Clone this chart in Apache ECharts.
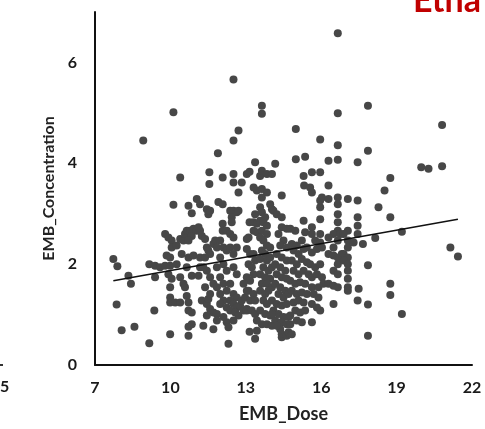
<!DOCTYPE html>
<html>
<head>
<meta charset="utf-8">
<script src="https://cdn.jsdelivr.net/npm/echarts@6/dist/echarts.min.js"></script>
<style>
html,body{margin:0;padding:0;background:#fff;}
#chart{width:485px;height:429px;}
</style>
</head>
<body>
<div id="chart"></div>
<script>
// X axis tick labels (EMB_Dose) and Y axis tick labels (EMB_Concentration)
var xTicks = [7, 10, 13, 16, 19, 22];
var yTicks = [0, 2, 4, 6];

// Points as [EMB_Dose, EMB_Concentration], grouped by dose band
var outer = [[16.66,6.58],[12.51,5.66],[13.64,5.14],[13.64,4.98],[10.12,5.01],[16.66,4.99],[17.86,5.14],[20.81,4.76],[14.99,4.68],[12.71,4.65],[8.92,4.45],[12.51,4.45],[15.96,4.47],[16.66,4.36],[17.86,4.25],[11.89,4.20],[14.99,4.08],[15.36,4.13],[16.29,4.05],[16.66,4.07],[17.45,4.02],[13.37,4.02],[14.17,3.99],[19.98,3.92],[20.27,3.89],[20.81,3.94],[18.75,3.71],[18.52,3.46],[18.28,3.13],[18.75,2.93],[19.21,2.64],[21.14,2.33],[21.44,2.15],[18.75,1.61],[18.75,1.39],[19.21,1.01],[17.86,0.58],[17.86,1.98],[17.86,1.20],[17.66,2.40],[18.15,2.52],[17.49,1.51],[17.45,1.28]];
var bandLeft = [[7.73,2.10],[7.89,1.96],[8.33,1.77],[8.43,1.61],[7.86,1.20],[8.06,0.69],[8.57,0.76],[9.16,0.43],[9.36,1.08],[9.16,2.00],[9.39,1.97],[9.59,1.94],[9.79,1.97],[9.39,1.74],[9.99,0.61],[9.79,2.60],[9.92,2.53],[9.85,2.17]];
var band10 = [[10.05,2.47],[10.05,2.33],[9.99,2.13],[9.99,1.97],[9.92,1.80],[10.05,1.71],[9.99,1.54],[9.99,1.34],[9.99,1.24],[10.19,1.24],[10.39,1.24],[10.12,3.18],[10.39,3.72],[10.25,2.00],[10.25,2.37],[10.39,2.50],[10.52,2.47],[10.58,2.60],[10.65,2.66],[10.78,2.66],[10.92,2.70],[11.05,2.66],[11.18,2.66],[11.12,2.73],[10.85,2.56],[10.72,2.47],[10.45,2.20],[10.39,1.74],[10.52,1.61],[10.58,1.54],[10.65,1.37],[10.72,1.08],[10.85,1.04],[10.72,1.24],[10.72,2.13],[10.92,2.17],[10.65,1.94],[10.85,1.77],[11.12,1.77],[11.18,1.94],[11.18,2.13],[10.72,0.58],[10.72,0.76],[10.85,0.81]];
var band11 = [[10.72,3.16],[10.85,3.01],[11.05,3.29],[11.18,3.19],[11.45,3.09],[11.51,2.99],[11.58,3.06],[11.55,3.82],[11.55,3.59],[11.25,2.56],[11.38,2.50],[11.45,2.33],[11.51,2.27],[11.58,2.20],[11.71,2.40],[11.78,2.47],[11.38,2.13],[11.31,1.94],[11.45,1.87],[11.58,1.74],[11.71,1.61],[11.38,1.54],[11.25,1.28],[11.45,1.21],[11.58,1.11],[11.71,1.04],[11.51,1.31],[11.58,1.41],[11.45,0.98],[11.31,0.78],[11.71,0.71]];
var band12 = [[11.91,3.23],[12.08,3.72],[12.08,3.19],[12.51,3.79],[12.51,3.62],[12.71,3.42],[12.38,3.06],[12.51,3.06],[12.64,3.03],[12.71,3.06],[12.44,2.93],[12.44,2.83],[12.08,2.80],[12.08,2.66],[12.24,2.66],[12.38,2.60],[12.51,2.53],[11.98,2.47],[11.85,2.33],[12.11,2.33],[12.24,2.27],[12.38,2.33],[12.64,2.33],[12.51,2.20],[11.98,2.13],[12.11,2.00],[11.85,1.94],[12.24,1.87],[12.51,1.94],[12.64,1.80],[11.98,1.74],[12.11,1.61],[12.38,1.61],[11.85,1.54],[11.98,1.41],[12.24,1.47],[12.51,1.41],[12.64,1.34],[12.11,1.28],[12.38,1.28],[12.51,1.21],[12.64,1.14],[11.98,1.21],[12.24,1.14],[12.38,1.08],[12.58,1.04],[11.85,1.01],[12.11,0.95],[12.24,0.85],[12.51,0.88],[12.71,0.98],[12.77,1.18],[12.84,1.28],[12.91,1.08],[13.04,1.11],[11.85,0.88],[12.31,0.42],[12.31,0.75]];
var band13 = [[12.84,3.62],[13.04,3.79],[13.15,3.83],[13.31,3.52],[13.15,2.83],[13.31,2.83],[13.37,2.99],[13.04,2.50],[13.11,2.53],[13.31,2.66],[13.44,2.80],[13.44,2.63],[13.04,2.30],[13.17,2.20],[13.31,2.20],[13.37,2.07],[13.11,2.00],[13.24,1.94],[13.04,1.74],[13.17,1.67],[13.31,1.80],[12.91,1.61],[13.11,1.47],[13.31,1.41],[12.97,1.34],[13.17,1.28],[13.37,1.28],[13.04,1.08],[13.24,1.08],[13.37,1.01],[13.44,0.88],[13.04,1.47],[13.15,0.66],[13.37,0.52]];
var band14a = [[13.57,3.75],[13.64,3.85],[13.84,3.79],[14.04,3.79],[13.44,3.46],[13.64,3.49],[13.64,3.32],[13.84,3.42],[13.57,3.13],[13.64,3.03],[13.77,2.93],[13.97,3.19],[14.04,3.09],[13.57,2.86],[13.70,2.83],[13.84,2.76],[13.64,2.66],[13.84,2.60],[13.57,2.53],[13.70,2.47],[13.84,2.37],[13.97,2.33],[13.64,2.27],[13.77,2.20],[13.57,2.10],[13.84,2.07],[13.97,2.13],[13.70,1.94],[13.90,1.87],[14.04,1.94],[13.57,1.80],[13.77,1.74],[13.97,1.71],[13.64,1.61],[13.84,1.61],[14.04,1.54],[13.57,1.47],[13.77,1.41],[13.90,1.47],[13.70,1.28],[13.84,1.21],[14.04,1.28],[13.57,1.08],[13.77,1.01],[13.97,0.98],[13.64,0.81],[13.84,0.81],[14.04,0.78],[13.44,0.68]];
var band14b = [[14.43,3.36],[14.10,3.06],[14.23,2.99],[14.43,2.93],[14.43,2.73],[14.63,2.70],[14.30,2.60],[14.50,2.47],[14.37,2.37],[14.63,2.33],[14.23,2.20],[14.43,2.13],[14.63,2.07],[14.17,2.00],[14.37,1.94],[14.57,1.87],[14.23,1.80],[14.43,1.74],[14.63,1.71],[14.17,1.61],[14.37,1.54],[14.57,1.47],[14.30,1.41],[14.50,1.34],[14.70,1.41],[14.23,1.21],[14.43,1.18],[14.63,1.21],[14.10,1.08],[14.30,1.01],[14.50,0.95],[14.70,0.95],[14.17,0.88],[14.43,0.85],[14.63,0.81],[14.37,0.71],[14.43,0.61],[14.43,0.55],[14.63,0.58],[14.23,0.78],[14.04,1.01]];
var band15 = [[14.77,2.70],[14.97,2.66],[14.83,2.40],[15.03,2.37],[15.23,2.47],[15.30,2.86],[15.36,2.63],[14.90,2.27],[15.10,2.20],[15.30,2.30],[15.43,2.33],[14.83,2.07],[15.03,2.00],[15.23,2.10],[15.43,2.04],[14.90,1.87],[15.10,1.80],[15.30,1.87],[15.50,1.80],[14.77,1.67],[14.97,1.61],[15.16,1.64],[15.36,1.61],[14.83,1.47],[15.03,1.41],[15.23,1.44],[15.43,1.41],[14.90,1.24],[15.10,1.28],[15.30,1.24],[14.97,1.08],[15.16,1.04],[15.36,1.08],[14.77,0.98],[15.03,0.88],[15.23,0.85],[14.77,0.81],[14.70,0.65],[14.83,0.61],[15.30,3.75],[15.32,3.56],[15.56,3.52],[15.63,3.82],[15.96,3.82],[15.63,3.42]];
var band16a = [[15.63,2.73],[15.63,2.60],[15.76,2.47],[15.96,2.60],[15.96,2.43],[15.96,2.89],[15.63,2.23],[15.83,2.30],[16.03,2.33],[15.56,2.00],[15.76,1.94],[15.96,2.00],[15.63,1.74],[15.83,1.80],[16.03,1.74],[15.63,1.54],[15.89,1.54],[16.09,1.61],[15.70,1.41],[15.89,1.34],[15.63,1.21],[15.83,1.14],[15.63,0.85],[15.96,1.08],[15.96,3.13],[15.96,3.26],[16.03,3.32],[16.29,3.29],[16.29,3.56]];
var band16b = [[16.66,3.32],[16.66,3.19],[16.66,2.99],[16.66,2.83],[16.66,2.66],[16.49,2.60],[16.76,2.60],[16.29,2.53],[16.66,2.47],[16.49,2.33],[16.29,2.20],[16.49,2.17],[16.66,2.13],[16.82,2.20],[16.66,2.00],[16.49,1.87],[16.66,1.80],[16.29,1.61],[16.49,1.57],[16.66,1.54],[16.49,1.21]];
var band17 = [[17.06,3.29],[17.06,2.66],[16.89,2.60],[17.06,2.47],[17.06,2.33],[16.89,2.20],[17.06,2.13],[16.89,2.07],[17.06,2.00],[17.06,1.87],[17.06,1.71],[17.06,1.54],[17.06,1.47],[17.45,3.26],[17.45,2.93],[17.45,2.76],[17.45,2.60],[17.29,2.43]];

// Trend line endpoints
var trendX = [7.73, 21.44];
var trendY = [1.67, 2.89];

var allPoints = [].concat(outer, bandLeft, band10, band11, band12, band13, band14a, band14b, band15, band16a, band16b, band17);
var trend = trendX.map(function (x, i) { return [x, trendY[i]]; });

var FONT = 'Lato, "Open Sans", "Liberation Sans", sans-serif';
var chart = echarts.init(document.getElementById('chart'), null, {renderer: 'canvas'});
chart.setOption({
  animation: false,
  backgroundColor: '#ffffff',
  grid: {left: 95, right: 13, top: 12, bottom: 64, containLabel: false},
  xAxis: {
    type: 'value', min: xTicks[0], max: xTicks[xTicks.length - 1], interval: 3,
    name: 'EMB_Dose', nameLocation: 'middle', nameGap: 40,
    nameTextStyle: {fontFamily: FONT, fontWeight: 'bold', fontSize: 18, color: '#222'},
    axisLine: {show: true, lineStyle: {color: '#111', width: 2}},
    axisTick: {show: false},
    splitLine: {show: false},
    axisLabel: {fontFamily: FONT, fontWeight: 'bold', fontSize: 16, color: '#1a1a1a', margin: 15}
  },
  yAxis: {
    type: 'value', min: yTicks[0], max: 7, interval: 2,
    name: 'EMB_Concentration', nameLocation: 'middle', nameGap: 37,
    nameTextStyle: {fontFamily: FONT, fontWeight: 'bold', fontSize: 16, color: '#222'},
    axisLine: {show: true, lineStyle: {color: '#111', width: 2}},
    axisTick: {show: false},
    splitLine: {show: false},
    axisLabel: {fontFamily: FONT, fontWeight: 'bold', fontSize: 16, color: '#1a1a1a', margin: 18, showMaxLabel: false}
  },
  series: [
    {type: 'scatter', data: allPoints, symbolSize: 8, itemStyle: {color: '#474747', opacity: 1}, z: 2},
    {type: 'line', data: trend, showSymbol: false, symbol: 'none', lineStyle: {color: '#111', width: 1.6}, z: 3}
  ],
  graphic: [
    {type: 'text', left: 413, top: -16, style: {text: 'Etha', fontFamily: FONT, fontWeight: 'bold', fontSize: 34, fill: '#c00000'}},
    {type: 'text', left: 0, top: 379, style: {text: '5', fontFamily: FONT, fontWeight: 'bold', fontSize: 16, fill: '#1a1a1a'}},
    {type: 'rect', shape: {x: 0, y: 364, width: 3, height: 2}, style: {fill: '#333'}}
  ]
});
</script>
</body>
</html>
